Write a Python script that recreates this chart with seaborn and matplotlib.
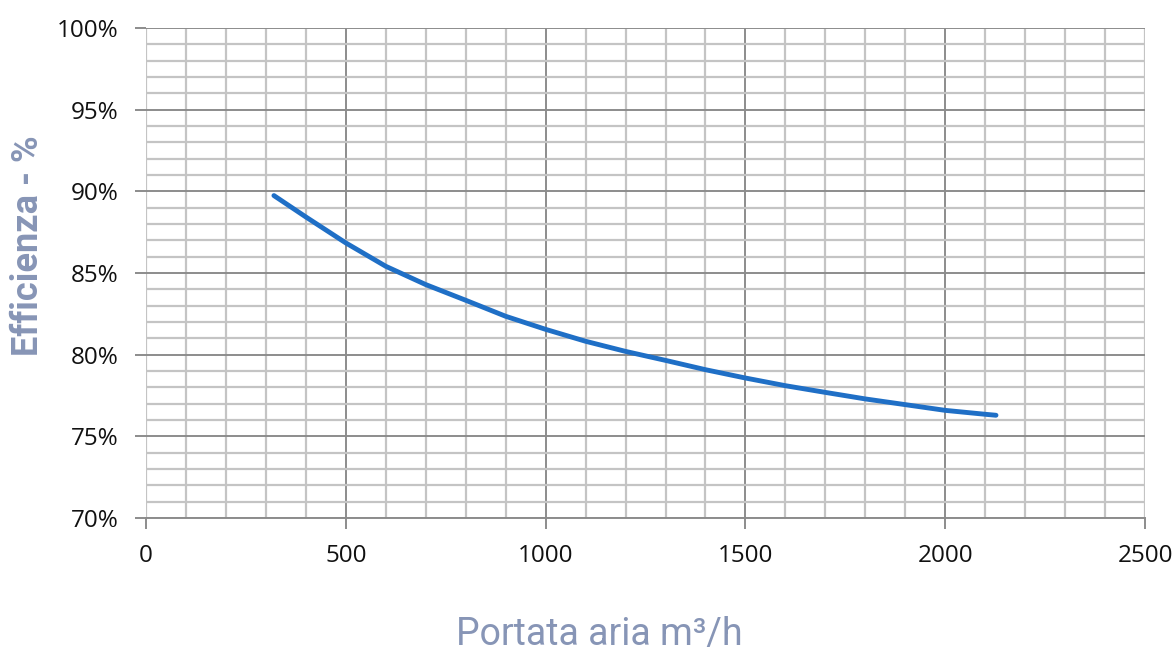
import numpy as np
import pandas as pd
import matplotlib
matplotlib.use("Agg")
import matplotlib.pyplot as plt
import seaborn as sns
from matplotlib.ticker import MultipleLocator, FuncFormatter

# Air flow (m3/h) and heat-recovery efficiency (%)
portata = [320, 400, 500, 600, 700, 800, 900, 1000, 1100, 1200, 1300, 1400,
           1500, 1600, 1700, 1800, 1900, 2000, 2100, 2127]
efficienza = [89.74, 88.43, 86.84, 85.41, 84.29, 83.33, 82.35, 81.55, 80.82, 80.20,
              79.65, 79.08, 78.57, 78.10, 77.69, 77.29, 76.94, 76.59, 76.35, 76.29]

x_ticks = [0, 500, 1000, 1500, 2000, 2500]
y_ticks = [70, 75, 80, 85, 90, 95, 100]

df = pd.DataFrame({"portata": portata, "efficienza": efficienza})

sns.set_theme(style="white")
plt.rcParams["font.family"] = ["Open Sans", "DejaVu Sans"]

fig = plt.figure(figsize=(11.75, 6.51), dpi=100)
ax = fig.add_axes([0.1243, 0.2043, 0.8502, 0.7527])

sns.lineplot(data=df, x="portata", y="efficienza", ax=ax, color="#1f6fc6",
             linewidth=3.5, solid_capstyle="round", solid_joinstyle="round", zorder=5)

ax.set_xlim(0, 2500)
ax.set_ylim(70, 100)
ax.set_xticks(x_ticks)
ax.set_yticks(y_ticks)
ax.xaxis.set_minor_locator(MultipleLocator(100))
ax.yaxis.set_minor_locator(MultipleLocator(1))
ax.yaxis.set_major_formatter(FuncFormatter(lambda v, _: f"{v:.0f}%"))

minor_col = "#c4c4c4"
major_col = "#8c8c8c"
ax.grid(which="minor", color=minor_col, linewidth=1.6)
ax.grid(which="major", color=major_col, linewidth=1.4)
ax.set_axisbelow(True)

# outer vertical borders keep the light colour
xgl = ax.get_xgridlines()
xgl[0].set_color(minor_col)
xgl[-1].set_color(minor_col)
xgl[0].set_linewidth(1.6)
xgl[-1].set_linewidth(1.6)

for side in ["left", "right", "top"]:
    ax.spines[side].set_visible(False)
ax.spines["bottom"].set_color(major_col)
ax.spines["bottom"].set_linewidth(1.4)

ax.tick_params(axis="both", which="major", length=8, width=1.4, color=major_col,
               labelsize=17.5, labelcolor="#111111")
ax.tick_params(axis="x", which="major", direction="out", bottom=True, pad=11)
ax.tick_params(axis="y", which="major", direction="out", left=True, pad=12)
ax.tick_params(which="minor", length=0)

label_color = "#8795b6"
ax.set_xlabel("Portata aria m³/h", fontsize=27, color=label_color,
              family=["Roboto", "DejaVu Sans"])
ax.xaxis.set_label_coords(0.454, -0.238, transform=ax.transAxes)
ax.xaxis.label.set_verticalalignment("center")
ax.set_ylabel("Efficienza - %", fontsize=26, color=label_color, fontweight="bold",
              family=["Roboto", "DejaVu Sans"])
ax.yaxis.set_label_coords(-0.118, 0.555, transform=ax.transAxes)
ax.yaxis.label.set_verticalalignment("center")

fig.savefig("out.png", dpi=100, facecolor="white")
